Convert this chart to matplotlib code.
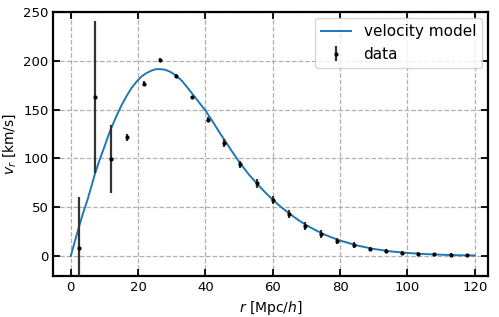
import numpy as np
import matplotlib
matplotlib.use("Agg")
import matplotlib.pyplot as plt

# measured radial velocity profile (binned)
r_data = [2.4, 7.2, 12.0, 16.8, 21.6, 26.4, 31.2, 36.0, 40.8, 45.6, 50.4, 55.2, 60.0,
          64.8, 69.6, 74.4, 79.2, 84.0, 88.8, 93.6, 98.4, 103.2, 108.0, 112.8, 117.6]
v_data = [7.9, 163.0, 99.5, 121.7, 176.7, 200.7, 184.3, 162.4, 139.8, 115.6, 93.8, 74.5, 57.4,
          42.7, 31.1, 22.6, 15.7, 10.9, 7.2, 5.1, 3.4, 2.4, 1.7, 1.3, 0.7]
v_err = [53.0, 78.0, 35.0, 3.5, 3.0, 2.0, 2.0, 2.0, 3.0, 4.0, 4.0, 4.5, 4.0,
         4.0, 4.0, 4.0, 3.0, 3.0, 2.5, 2.0, 2.0, 1.5, 1.5, 1.5, 1.5]

# model curve sampled off the plot
r_model = [0, 1.2, 2.4, 3.6, 5, 6, 7.2, 8.5, 10, 11, 12, 13.5, 15, 16.5, 18, 19.5, 21, 22.5,
           24, 25, 26, 27, 28, 29.5, 31, 33, 35, 37.5, 40, 42, 44, 46, 48, 50.4, 53, 55.2,
           57.5, 60, 62.5, 65, 67.5, 70, 72.5, 75, 77.5, 80, 85, 90, 95, 100, 105, 110, 115, 120]
v_model = [0, 15, 29.5, 43.5, 58, 70, 84.5, 98, 112, 122, 131, 143, 154, 163.5, 172, 178.5, 184, 187.5,
           190, 191.2, 191.5, 191.3, 190.8, 188.8, 185.5, 179.5, 171, 160, 149, 138.5, 127.5, 117, 106.5, 94.5, 83, 74.5,
           66, 57.5, 50, 43.2, 37, 31.5, 26.8, 22.5, 19, 15.8, 10.8, 7.2, 4.7, 3.1, 2.0, 1.3, 0.8, 0.5]

fig = plt.figure(figsize=(4.99, 3.17), dpi=100)
ax = fig.add_axes([53.3 / 499, 41 / 317, (488.3 - 53.3) / 499, (276 - 12) / 317])

ax.plot(r_model, v_model, color="#1f77b4", lw=1.4, label="velocity model", zorder=3)
ax.errorbar(r_data, v_data, yerr=v_err, fmt=".", color="k", ms=4, ecolor="#333333",
            elinewidth=1.6, capsize=0, label="data", zorder=4)

ax.set_xlim(-5.2, 124)
ax.set_ylim(-20.5, 250)
ax.set_xticks([0, 20, 40, 60, 80, 100, 120])
ax.set_yticks([0, 50, 100, 150, 200, 250])
ax.grid(True, ls="--", color="#b0b0b0", lw=0.9)
ax.set_axisbelow(True)
ax.tick_params(direction="in", top=True, right=True, length=5, width=1.3, labelsize=9.5)
for s in ax.spines.values():
    s.set_linewidth(1.6)
ax.set_xlabel(r"$r$ [Mpc/$h$]", fontsize=10)
ax.set_ylabel(r"$v_r$ [km/s]", fontsize=10)
ax.legend(loc="upper right", fontsize=11, handlelength=2.0, borderaxespad=0.4)

fig.savefig("out.png", dpi=100)
